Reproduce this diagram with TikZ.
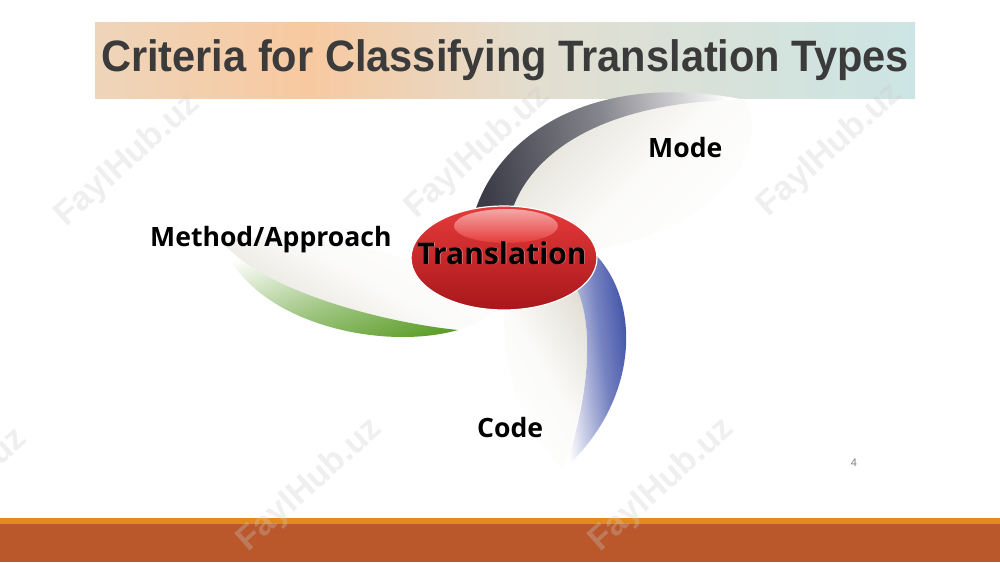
\documentclass[tikz,border=0pt]{standalone}
\usepackage{fontspec}
\setmainfont{Liberation Sans}
\newfontfamily\noto{Open Sans}
\usetikzlibrary{shapes.geometric}
\definecolor{titletext}{HTML}{3B3B3B}
\definecolor{tbtan}{HTML}{EED5BA}
\definecolor{tbpeach}{HTML}{F8C9A0}
\definecolor{tbmid}{HTML}{E2DED0}
\definecolor{tbteal}{HTML}{CCE5E4}
\definecolor{bandorange}{HTML}{E38A1C}
\definecolor{bandrust}{HTML}{BA572B}
\definecolor{graydark}{HTML}{3C3C48}
\definecolor{greendark}{HTML}{5A9C26}
\definecolor{bluedark}{HTML}{22369A}
\definecolor{beige}{HTML}{E2E0D6}
\definecolor{redtop}{HTML}{E63A3A}
\definecolor{redbot}{HTML}{A8171B}
\pgfdeclarehorizontalshading{titleshade}{100bp}{color(0bp)=(tbtan); color(25bp)=(tbtan); color(38bp)=(tbpeach); color(52bp)=(tbmid); color(75bp)=(tbteal); color(100bp)=(tbteal)}
\begin{document}
\begin{tikzpicture}[x=1pt,y=-1pt,
  lbl/.style={font=\noto\bfseries\fontsize{26.6}{30}\selectfont, text=black, inner sep=0pt},
  body/.style={top color=white, bottom color=beige, middle color=white!85!beige},
  wmark/.style={font=\bfseries\fontsize{34}{36}\selectfont, text=gray!40, opacity=0.3, rotate=42, inner sep=0pt}]
\useasboundingbox (0,0) rectangle (1000,562);
\fill[white] (0,0) rectangle (1000,562);
% title bar
\shade[shading=titleshade] (95,22) rectangle (915,98);
\node[anchor=base, inner sep=0pt, text=titletext, font=\bfseries\fontsize{44}{48}\selectfont] (title) at (505,71) {\scalebox{0.945}[1]{Criteria for Classifying Translation Types}};
% bodies of the blades
\shade[body, shading angle=-135]
  (505,225) .. controls (520,150) and (610,100) .. (745,100)
  .. controls (775,160) and (700,235) .. (590,250) -- cycle;
\shade[body, shading angle=-30]
  (222,242) .. controls (262,290) and (380,322) .. (458,330)
  .. controls (480,322) and (495,315) .. (500,305)
  .. controls (420,250) and (300,225) .. (222,242) -- cycle;
\shade[body, shading angle=120]
  (575,285) .. controls (598,330) and (585,410) .. (563,468)
  .. controls (520,430) and (500,360) .. (505,305) -- cycle;
% coloured bands
\shade[top color=white, bottom color=graydark, middle color=graydark!62!white, shading angle=-80]
  (470,230) .. controls (490,130) and (600,70) .. (745,100)
  .. controls (610,100) and (520,150) .. (507,230) -- cycle;
\shade[top color=white, bottom color=greendark, middle color=greendark!55!white, shading angle=20]
  (222,242) .. controls (250,322) and (380,352) .. (458,330)
  .. controls (380,322) and (262,290) .. (222,242) -- cycle;
\shade[top color=white, bottom color=bluedark, middle color=bluedark!62!white, shading angle=97]
  (593,252) .. controls (642,300) and (640,400) .. (565,468)
  .. controls (585,410) and (598,330) .. (575,285) -- cycle;
% centre ellipse
\node[ellipse, minimum width=186pt, minimum height=104pt, inner sep=0pt,
      top color=redtop, bottom color=redbot, draw=white, line width=1.2pt] (centre) at (504,258) {};
\shade[top color=redtop!45!white, bottom color=redtop] (506,226) ellipse [x radius=52, y radius=17];
\node[lbl, font=\noto\bfseries\fontsize{30}{32}\selectfont, text=white, opacity=0.45, anchor=base] at (502.7,264.7) {Translation};
\node[lbl, font=\noto\bfseries\fontsize{30}{32}\selectfont, anchor=base] (trans) at (502,264) {Translation};
% labels
\node[lbl, anchor=base west] (mode) at (648,157) {Mode};
\node[lbl, anchor=base west] (method) at (150,246) {Method/Approach};
\node[lbl, anchor=base west] (code) at (477,437) {Code};
\node[anchor=base, inner sep=0pt, text=gray, font=\fontsize{11}{12}\selectfont] (page) at (854,466) {4};
% bottom band
\fill[bandorange] (0,518) rectangle (1000,524);
\fill[bandrust] (0,524) rectangle (1000,562);
% watermarks
\begin{scope}
\clip (0,0) rectangle (1000,562);
\node[wmark] (wa) at (128,160) {FaylHub.uz};
\node[wmark] (wb) at (478,152) {FaylHub.uz};
\node[wmark] (wc) at (830,150) {FaylHub.uz};
\node[wmark] (wd) at (-45,495) {FaylHub.uz};
\node[wmark] (we) at (310,485) {FaylHub.uz};
\node[wmark] (wf) at (662,485) {FaylHub.uz};
\end{scope}
\end{tikzpicture}
\end{document}
